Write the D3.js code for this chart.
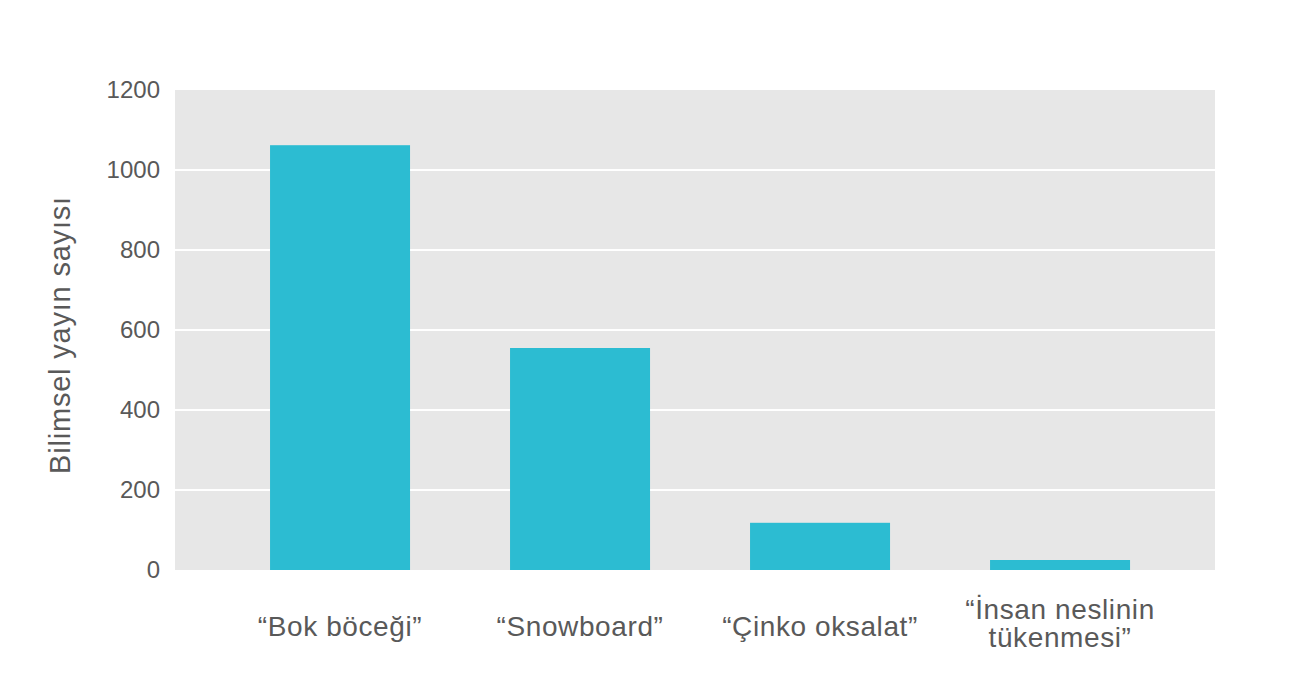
<!DOCTYPE html>
<html>
<head>
<meta charset="utf-8">
<script src="https://cdn.jsdelivr.net/npm/d3@7"></script>
<style>
  body { margin: 0; background: #fff; }
  text { font-family: "Liberation Sans", Arial, sans-serif; fill: #595959; }
</style>
</head>
<body>
<div id="chart"></div>
<script>
// categories (each label may wrap on several lines)
const categories = ["“Bok böceği”", "“Snowboard”", "“Çinko oksalat”", "“İnsan neslinin tükenmesi”"];
const categoryLines = [["“Bok böceği”"], ["“Snowboard”"], ["“Çinko oksalat”"], ["“İnsan neslinin", "tükenmesi”"]];
// number of scientific publications
const values = [1062, 555, 118, 25];
const yTicks = [0, 200, 400, 600, 800, 1000, 1200];

const width = 1310, height = 680;
const margin = {top: 90, right: 95, bottom: 110, left: 175};

const svg = d3.select("#chart")
  .append("svg")
  .attr("width", width)
  .attr("height", height);

const x = d3.scaleBand()
  .domain(categories)
  .range([margin.left, width - margin.right])
  .paddingInner(0.4167)
  .paddingOuter(0.375)
  .align(0.528);

const y = d3.scaleLinear()
  .domain([0, 1200])
  .range([height - margin.bottom, margin.top]);

// plot background
svg.append("rect")
  .attr("x", margin.left)
  .attr("y", margin.top)
  .attr("width", width - margin.left - margin.right)
  .attr("height", height - margin.top - margin.bottom)
  .attr("fill", "#e7e7e7");

// gridlines
svg.append("g")
  .selectAll("line")
  .data(yTicks.filter(d => d > 0 && d < 1200))
  .join("line")
    .attr("x1", margin.left)
    .attr("x2", width - margin.right)
    .attr("y1", d => y(d))
    .attr("y2", d => y(d))
    .attr("stroke", "#fff")
    .attr("stroke-width", 2);

// y axis
const yAxis = svg.append("g")
  .attr("transform", `translate(${margin.left},0)`)
  .call(d3.axisLeft(y).tickValues(yTicks).tickFormat(d3.format("d")).tickSize(0).tickPadding(15));
yAxis.select(".domain").remove();
yAxis.selectAll("text")
  .attr("font-family", "Liberation Sans, Arial, sans-serif")
  .attr("font-size", 24)
  .attr("fill", "#595959");

// bars
svg.append("g")
  .selectAll("rect")
  .data(values)
  .join("rect")
    .attr("x", (d, i) => x(categories[i]))
    .attr("y", d => y(d))
    .attr("width", x.bandwidth())
    .attr("height", d => y(0) - y(d))
    .attr("fill", "#2cbcd2");

// category labels
const labels = svg.append("g")
  .selectAll("text")
  .data(categories)
  .join("text")
    .attr("text-anchor", "middle")
    .attr("font-size", 28)
    .attr("letter-spacing", 0.6)
    .attr("x", d => x(d) + x.bandwidth() / 2)
    .attr("y", (d, i) => categoryLines[i].length > 1 ? 619 : 636);
labels.each(function(d, i) {
  d3.select(this).selectAll("tspan")
    .data(categoryLines[i])
    .join("tspan")
      .attr("x", x(d) + x.bandwidth() / 2)
      .attr("dy", (t, j) => j === 0 ? 0 : 28)
      .text(t => t);
});

// y label
svg.append("text")
  .attr("transform", "translate(70, 335) rotate(-90)")
  .attr("text-anchor", "middle")
  .attr("font-size", 29)
  .attr("letter-spacing", 0.8)
  .text("Bilimsel yayın sayısı");
</script>
</body>
</html>
